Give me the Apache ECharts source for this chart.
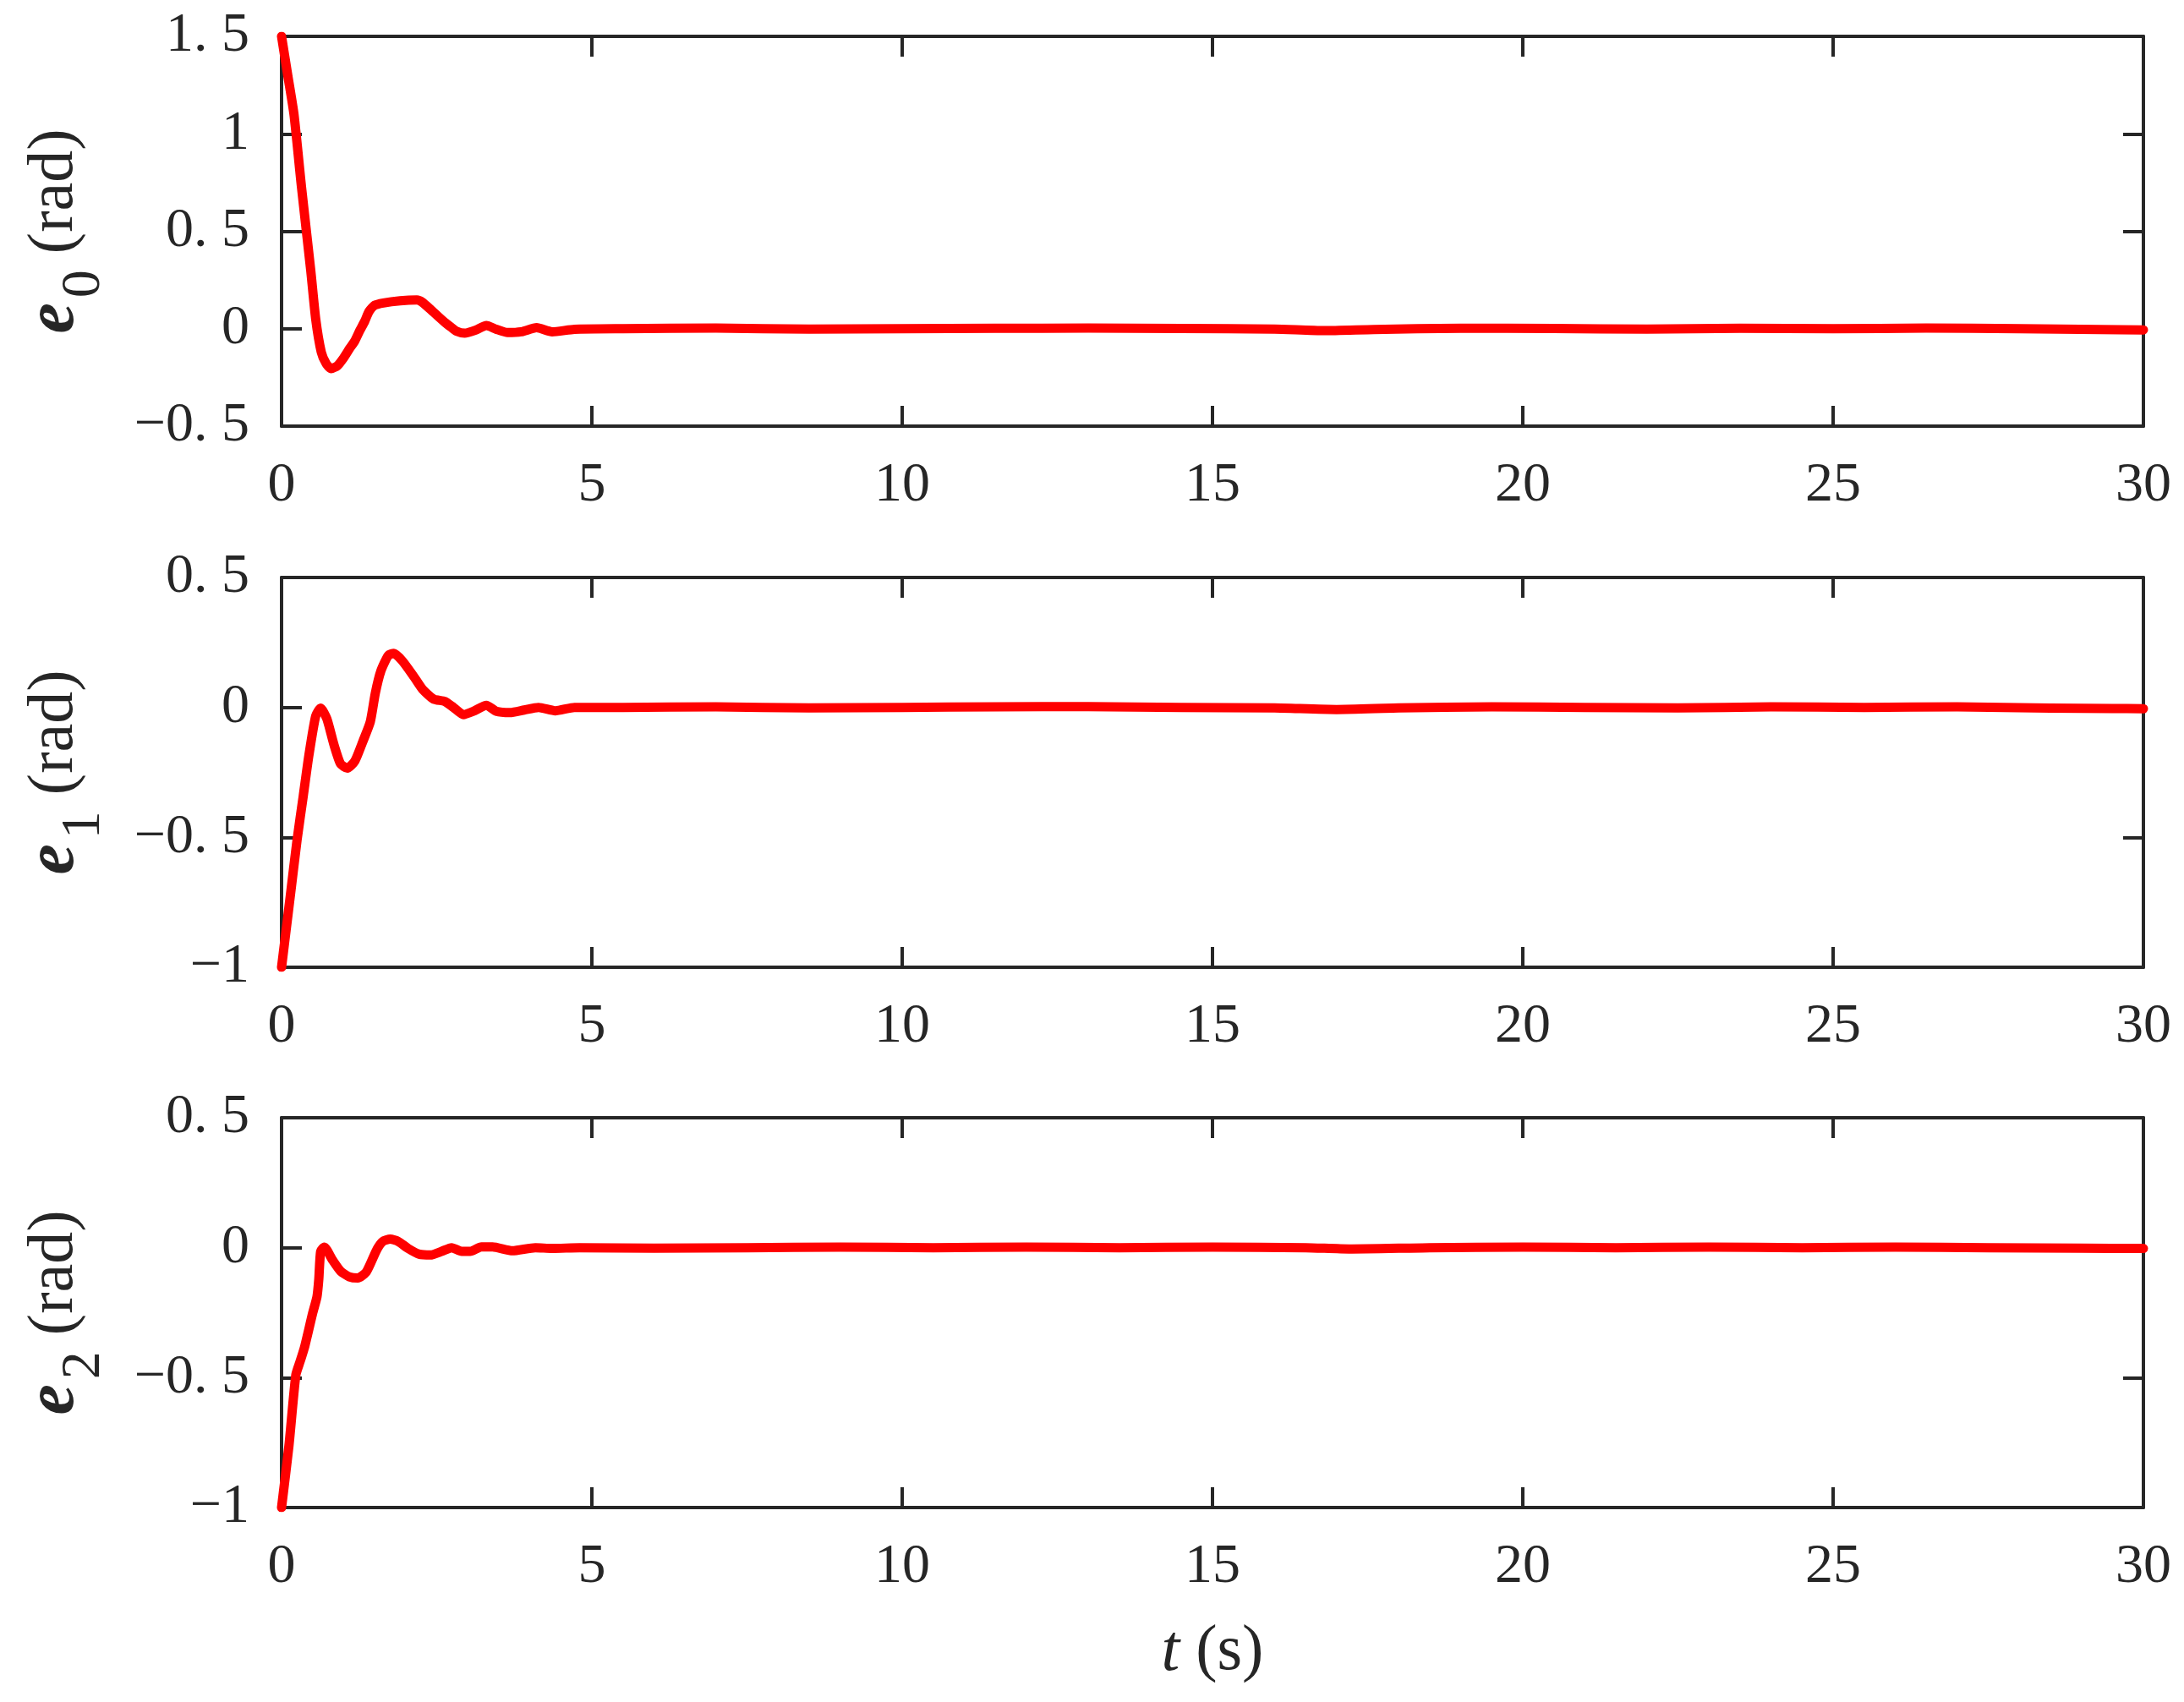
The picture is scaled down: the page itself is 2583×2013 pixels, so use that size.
<!DOCTYPE html>
<html>
<head>
<meta charset="utf-8">
<script src="https://cdn.jsdelivr.net/npm/echarts@6/dist/echarts.min.js"></script>
<style>
  html, body { margin: 0; padding: 0; background: #fff; }
  #chart { width: 2583px; height: 2013px; }
</style>
</head>
<body>
<div id="chart"></div>
<script>
// time (s) and error values
const t0 = [0, 0.1, 0.2, 0.32, 0.47, 0.55, 0.64, 0.72, 0.8, 0.9, 1.0, 1.1, 1.18, 1.26, 1.34, 1.41, 1.5, 1.64, 1.91, 2.18, 2.27, 2.41, 2.52, 2.64, 2.73, 2.82, 2.95, 3.13, 3.3, 3.46, 3.64, 3.86, 4.11, 4.36, 4.72, 5.5, 7, 8.5, 10, 11.5, 13, 14.5, 16, 16.8, 17.6, 19, 20.5, 22, 23.5, 25, 26.5, 28, 29.3, 30];
const e0 = [1.5, 1.3, 1.1, 0.73, 0.3, 0.05, -0.12, -0.18, -0.205, -0.19, -0.15, -0.1, -0.063, -0.01, 0.038, 0.089, 0.12, 0.132, 0.143, 0.147, 0.135, 0.096, 0.064, 0.03, 0.008, -0.013, -0.023, -0.007, 0.016, -0.003, -0.02, -0.016, 0.005, -0.016, -0.003, 0, 0.003, -0.002, 0, 0.002, 0.003, 0.001, -0.002, -0.01, -0.004, 0.002, 0.001, -0.002, 0.002, 0, 0.003, 0, -0.004, -0.006];

const t1 = [0, 0.14, 0.25, 0.35, 0.44, 0.55, 0.63, 0.73, 0.84, 0.95, 1.06, 1.18, 1.31, 1.43, 1.51, 1.6, 1.72, 1.81, 1.95, 2.13, 2.27, 2.45, 2.63, 2.77, 2.93, 3.09, 3.3, 3.46, 3.68, 3.91, 4.14, 4.41, 4.72, 5.5, 7, 8.5, 10, 11.5, 13, 14.5, 16, 17, 18, 19.5, 21, 22.5, 24, 25.5, 27, 28.5, 29.5, 30];
const e1 = [-1, -0.727, -0.51, -0.34, -0.185, -0.033, -0.003, -0.044, -0.14, -0.217, -0.234, -0.207, -0.131, -0.055, 0.054, 0.14, 0.2, 0.208, 0.178, 0.119, 0.07, 0.032, 0.023, 0, -0.028, -0.015, 0.008, -0.015, -0.02, -0.01, 0, -0.013, 0, 0, 0.002, -0.002, 0, 0.002, 0.003, 0, -0.002, -0.008, -0.002, 0.002, 0, -0.002, 0.002, 0, 0.002, -0.003, -0.004, -0.005];

const t2 = [0, 0.12, 0.23, 0.3, 0.37, 0.5, 0.57, 0.6, 0.63, 0.69, 0.82, 0.95, 1.09, 1.23, 1.36, 1.45, 1.54, 1.63, 1.75, 1.88, 2.04, 2.22, 2.4, 2.58, 2.74, 2.9, 3.04, 3.22, 3.4, 3.72, 4.09, 4.36, 4.8, 6, 7.5, 9, 10.5, 12, 13.5, 15, 16.5, 17.2, 18.5, 20, 21.5, 23, 24.5, 26, 27.5, 29, 30];
const e2 = [-1, -0.76, -0.49, -0.437, -0.383, -0.253, -0.19, -0.122, -0.014, 0.002, -0.047, -0.09, -0.112, -0.117, -0.095, -0.052, -0.005, 0.024, 0.033, 0.024, -0.003, -0.025, -0.028, -0.014, 0, -0.014, -0.014, 0.003, 0.003, -0.012, 0, -0.003, 0, -0.002, 0, 0.002, 0, 0.002, 0, 0.002, 0, -0.005, 0, 0.002, 0, 0.002, 0, 0.002, 0, -0.002, -0.003];

const xTicks = { min: 0, max: 30, interval: 5 };
const yRanges = [
  { min: -0.5, max: 1.5, interval: 0.5 },
  { min: -1, max: 0.5, interval: 0.5 },
  { min: -1, max: 0.5, interval: 0.5 },
];
const subs = ["0", "1", "2"];

const chart = echarts.init(document.getElementById("chart"));
const FONT = "Liberation Serif";
const AXIS_COLOR = "#262626";
const gridTops = [43, 683, 1322];

function tickLabel(v) {
  return String(v).replace("-", "\u2212").replace(".", ". ");
}

const grids = gridTops.map((top) => ({ left: 333, right: 48, top: top, height: 461 }));

const axisLine = { show: true, onZero: false, lineStyle: { color: AXIS_COLOR, width: 4 } };
const axisTick = { show: true, inside: true, length: 24, lineStyle: { color: AXIS_COLOR, width: 4 } };

const xAxes = [];
const yAxes = [];
const series = [];
const seriesData = [
  [t0, e0],
  [t1, e1],
  [t2, e2],
];

for (let i = 0; i < 3; i++) {
  xAxes.push({
    type: "value",
    gridIndex: i,
    position: "bottom",
    ...xTicks,
    axisLine: axisLine,
    axisTick: axisTick,
    splitLine: { show: false },
    axisLabel: { margin: 38, color: AXIS_COLOR, fontFamily: FONT, fontSize: 66 },
    name: i === 2 ? "{t|t}{r| (s)}" : "",
    nameLocation: "middle",
    nameGap: 132,
    nameTextStyle: {
      color: AXIS_COLOR,
      rich: {
        t: { fontFamily: FONT, fontStyle: "italic", fontSize: 78, color: AXIS_COLOR },
        r: { fontFamily: FONT, fontSize: 76, color: AXIS_COLOR },
      },
    },
  });
  xAxes.push({
    type: "value",
    gridIndex: i,
    position: "top",
    ...xTicks,
    axisLine: axisLine,
    axisTick: axisTick,
    splitLine: { show: false },
    axisLabel: { show: false },
  });
  yAxes.push({
    type: "value",
    gridIndex: i,
    position: "left",
    ...yRanges[i],
    axisLine: axisLine,
    axisTick: axisTick,
    splitLine: { show: false },
    axisLabel: {
      margin: 38,
      color: AXIS_COLOR,
      fontFamily: FONT,
      fontSize: 66,
      formatter: tickLabel,
    },
    name: "{e|e}{s|" + subs[i] + "}{r| (rad)}",
    nameLocation: "middle",
    nameRotate: 90,
    nameGap: 200,
    nameTextStyle: {
      color: AXIS_COLOR,
      rich: {
        e: { fontFamily: FONT, fontStyle: "italic", fontWeight: "bold", fontSize: 82, color: AXIS_COLOR },
        s: { fontFamily: FONT, fontSize: 66, color: AXIS_COLOR, padding: [70, 0, 0, 6] },
        r: { fontFamily: FONT, fontSize: 76, color: AXIS_COLOR },
      },
    },
  });
  yAxes.push({
    type: "value",
    gridIndex: i,
    position: "right",
    ...yRanges[i],
    axisLine: axisLine,
    axisTick: axisTick,
    splitLine: { show: false },
    axisLabel: { show: false },
  });
  const [ts, vs] = seriesData[i];
  series.push({
    type: "line",
    xAxisIndex: i * 2,
    yAxisIndex: i * 2,
    data: ts.map((t, k) => [t, vs[k]]),
    showSymbol: false,
    symbol: "none",
    smooth: 0.2,
    lineStyle: { color: "#ff0000", width: 11, join: "round", cap: "round" },
    animation: false,
  });
}

chart.setOption({
  backgroundColor: "#ffffff",
  animation: false,
  grid: grids,
  xAxis: xAxes,
  yAxis: yAxes,
  series: series,
});
</script>
</body>
</html>
